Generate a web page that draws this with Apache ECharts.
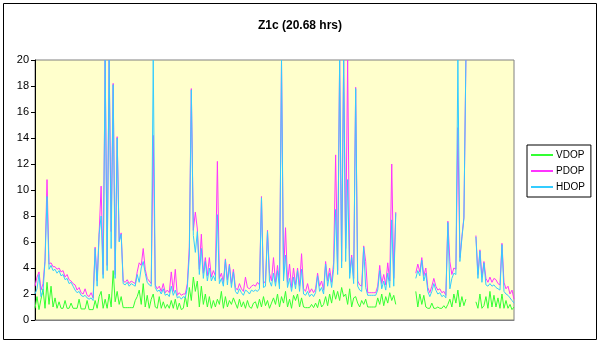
<!DOCTYPE html>
<html lang="en">
<head>
  <meta charset="UTF-8">
  <title>Z1c DOP</title>
  <script src="https://cdn.jsdelivr.net/npm/echarts@6/dist/echarts.min.js"></script>
  <style>
    html, body { margin: 0; padding: 0; background: #fff; }
    #chart { width: 600px; height: 343px; }
  </style>
</head>
<body>
  <div id="chart"></div>
</body>
<script>
  // DOP values, one sample every ~2px; null = no fix
  const vdop = [
    0.9, 1.8, 0.8, 1.6, 2.4, 0.9, 2.9, 1.2, 2.6, 1.0,
    1.7, 0.9, 1.4, 0.9, 0.9, 1.5, 0.9, 0.9, 1.3, 0.9,
    0.9, 0.9, 1.6, 0.85, 0.85, 0.85, 1.5, 0.8, 0.8, 0.8,
    1.5, 0.9, 1.8, 2.2, 0.9, 1.6, 0.9, 2.0, 1.0, 3.8,
    1.4, 2.2, 1.2, 1.8, 0.95, 0.95, 0.95, 0.95, 0.95, 0.95,
    1.5, 1.8, 2.3, 1.2, 2.8, 1.0, 1.9, 0.9, 1.6, 2.0,
    1.0, 0.9, 1.8, 0.9, 1.4, 0.9, 1.2, 0.9, 1.5, 0.9,
    1.6, 0.8, 1.3, 0.8, 0.9, 1.8, 1.0, 2.5, 1.5, 3.3,
    2.2, 3.0, 1.0, 2.6, 1.2, 2.0, 1.0, 1.8, 0.9, 1.5,
    1.0, 1.6, 1.2, 2.2, 0.9, 1.8, 1.0, 1.5, 1.2, 1.7,
    1.3, 0.9, 1.6, 1.0, 1.4, 0.9, 1.5, 1.0, 0.9, 1.3,
    1.4, 0.9, 1.6, 1.0, 1.8, 1.1, 1.5, 0.9, 1.3, 1.7,
    1.2, 2.0, 1.0, 1.8, 1.3, 2.2, 1.0, 1.6, 0.9, 1.9,
    1.5, 2.0, 1.0, 1.7, 1.0, 0.95, 0.95, 0.95, 1.2, 0.95,
    1.3, 0.95, 1.6, 1.0, 1.2, 1.8, 1.1, 2.0, 1.3, 2.3,
    1.6, 2.2, 1.5, 2.5, 1.8, 2.0, 1.2, 2.4, 1.0, 1.7,
    1.8, 1.3, 1.0, 1.5, 1.2, 1.6, 1.0, 1.0, 1.0, 1.0,
    1.0, 1.7, 1.2, 2.0, 1.1, 1.8, 1.3, 2.1, 1.5, 1.9,
    1.2, null, null, null, null, null, null, null, null, null,
    2.2, 1.0, 2.0, 1.2, 1.9, 1.0, 0.9, 0.9, 1.3, 0.9,
    0.9, 1.0, 0.9, 0.9, 1.1, 0.9, 1.2, 1.6, 1.0, 2.0,
    1.3, 2.3, 1.0, 1.8, 1.1, 1.6, null, null, null, null,
    1.4, 0.9, 2.0, 0.9, 1.1, 1.8, 0.9, 2.2, 1.0, 1.9,
    1.0, 1.7, 0.9, 2.0, 0.9, 1.5, 0.9, 1.2, 0.8, 1.0
  ];
  const pdop = [
    2.6, 3.3, 3.7, 2.3, 2.8, 4.6, 10.8, 4.3, 4.4, 4.1,
    4.1, 3.9, 4.0, 3.7, 3.8, 3.3, 3.5, 3.1, 3.0, 2.8,
    2.7, 2.3, 2.5, 2.1, 2.0, 2.4, 1.9, 1.8, 2.1, 1.7,
    5.6, 3.0, 6.7, 10.3, 3.5, 20, 4.2, 20, 6.8, 18.2,
    3.5, 14.1, 6.1, 6.7, 3.0, 2.9, 3.1, 2.8, 3.0, 2.9,
    2.8, 3.7, 4.4, 4.2, 5.5, 3.9, 3.2, 3.0, 2.8, 14.2,
    2.7, 2.4, 2.6, 2.2, 2.8, 2.1, 2.3, 2.1, 3.7, 2.2,
    3.9, 1.9, 2.1, 1.9, 2.0, 2.0, 2.8, 5.6, 17.8, 6.9,
    8.3, 7.0, 3.9, 6.6, 3.6, 4.8, 3.4, 4.8, 3.3, 3.8,
    3.4, 12.2, 3.2, 3.6, 2.9, 4.7, 3.1, 4.3, 2.8, 3.9,
    2.5, 2.3, 2.8, 2.4, 2.2, 3.3, 2.5, 2.4, 2.6, 2.7,
    2.6, 2.9, 2.7, 9.5, 2.8, 3.0, 6.9, 3.6, 3.0, 4.8,
    2.9, 4.2, 2.8, 20, 3.5, 7.1, 2.9, 4.3, 2.5, 4.0,
    2.7, 4.0, 2.6, 5.1, 2.4, 2.2, 2.8, 2.1, 2.4, 2.1,
    2.4, 3.6, 2.6, 3.0, 2.3, 4.5, 3.0, 4.0, 2.9, 4.4,
    12.7, 3.8, 20, 4.5, 20, 5.5, 20, 3.6, 5.0, 3.2,
    17.9, 3.0, 2.7, 2.6, 5.7, 4.5, 2.1, 2.1, 2.1, 2.1,
    2.1, 2.6, 4.2, 2.8, 3.5, 2.7, 4.4, 3.0, 12.0, 3.2,
    8.3, null, null, null, null, null, null, null, null, null,
    3.6, 4.3, 3.7, 4.8, 3.4, 4.0, 2.5, 2.1, 2.6, 3.2,
    2.6, 2.3, 2.4, 2.1, 2.2, 1.9, 7.6, 4.5, 3.5, 4.0,
    3.9, 14.8, 4.8, 6.4, 7.9, 20, null, null, null, null,
    6.5, 3.5, 5.4, 3.3, 4.5, 3.2, 2.9, 3.3, 2.9, 3.2,
    3.1, 2.8, 2.7, 5.9, 2.9, 2.4, 2.6, 2.0, 2.3, 1.6
  ];
  const hdop = [
    2.0, 2.4, 3.5, 1.8, 2.2, 4.5, 9.5, 3.9, 4.2, 3.8,
    3.9, 3.6, 3.8, 3.4, 3.5, 3.1, 3.2, 2.8, 2.9, 2.6,
    2.3, 2.1, 2.2, 1.9, 1.8, 1.9, 1.7, 1.6, 1.7, 1.5,
    5.5, 2.6, 6.6, 8.0, 3.2, 20, 3.8, 20, 5.5, 18.1,
    3.2, 14.0, 6.0, 6.6, 2.8, 2.7, 2.9, 2.6, 2.8, 2.7,
    2.6, 3.5, 2.9, 4.0, 4.5, 3.6, 2.9, 2.7, 2.6, 20,
    2.5, 2.2, 2.3, 2.0, 2.4, 1.9, 2.0, 1.8, 2.6, 1.9,
    2.3, 1.7, 1.8, 1.6, 1.8, 1.7, 2.5, 5.0, 17.7, 6.5,
    5.2, 6.8, 3.5, 5.5, 3.2, 4.5, 3.0, 4.0, 3.0, 3.4,
    3.0, 8.1, 2.8, 3.2, 2.6, 4.6, 2.7, 4.2, 2.5, 3.7,
    2.2, 2.0, 2.4, 2.1, 1.9, 2.3, 2.2, 2.0, 2.3, 2.2,
    2.3, 2.2, 2.4, 9.4, 2.5, 2.6, 6.8, 3.0, 2.6, 3.6,
    2.6, 3.8, 2.4, 20, 3.0, 5.0, 2.5, 3.2, 2.2, 3.3,
    2.4, 3.8, 2.2, 3.9, 2.0, 1.9, 2.2, 1.8, 2.0, 1.8,
    2.1, 3.4, 2.2, 2.5, 2.0, 4.3, 2.6, 3.6, 2.5, 3.9,
    8.5, 3.5, 20, 4.0, 20, 4.5, 10.8, 3.2, 4.8, 2.8,
    17.8, 2.6, 2.3, 2.2, 5.6, 2.5, 1.9, 1.9, 1.9, 1.9,
    1.9, 2.3, 3.8, 2.4, 3.0, 2.3, 3.6, 2.5, 7.7, 2.6,
    8.2, null, null, null, null, null, null, null, null, null,
    3.2, 3.8, 3.4, 4.6, 3.0, 3.6, 2.2, 1.8, 2.2, 2.8,
    2.3, 2.0, 2.1, 1.8, 1.9, 1.7, 7.5, 2.4, 3.2, 3.6,
    3.5, 20, 4.5, 6.3, 7.8, 20, null, null, null, null,
    6.4, 3.2, 5.3, 2.9, 4.4, 2.7, 2.6, 2.8, 2.6, 2.7,
    2.5, 2.4, 2.3, 5.8, 2.2, 2.0, 1.9, 1.7, 1.5, 1.3
  ];
  const yTicks = [0, 2, 4, 6, 8, 10, 12, 14, 16, 18, 20];

  const samples = hdop.map((_, i) => i);

  const chart = echarts.init(document.getElementById('chart'));
  const font = 'Arial, "Liberation Sans", sans-serif';

  chart.setOption({
    animation: false,
    backgroundColor: '#fff',
    title: {
      text: 'Z1c (20.68 hrs)',
      left: 'center',
      top: 15,
      textStyle: { fontFamily: font, fontSize: 12, fontWeight: 'bold', color: '#000' }
    },
    graphic: [{
      type: 'rect',
      shape: { x: 3.5, y: 3.5, width: 593, height: 336 },
      style: { fill: 'none', stroke: '#000', lineWidth: 1 },
      silent: true
    }],
    legend: {
      orient: 'vertical',
      left: 527,
      top: 145,
      padding: [5, 6, 5, 4],
      itemGap: 6,
      itemWidth: 22,
      itemHeight: 2,
      icon: 'rect',
      borderColor: '#000',
      borderWidth: 1,
      textStyle: { fontFamily: font, fontSize: 10, color: '#000', padding: [0, 0, 0, -2] },
      data: ['VDOP', 'PDOP', 'HDOP']
    },
    grid: {
      left: 35,
      right: 86,
      top: 60,
      bottom: 23,
      show: true,
      backgroundColor: '#ffffcc',
      borderColor: '#808080',
      borderWidth: 1
    },
    xAxis: {
      type: 'category',
      data: samples,
      boundaryGap: false,
      axisLine: { show: true, lineStyle: { color: '#808080' } },
      axisTick: { show: false },
      axisLabel: { show: false },
      splitLine: { show: false }
    },
    yAxis: {
      type: 'value',
      min: yTicks[0],
      max: yTicks[yTicks.length - 1],
      interval: 2,
      axisLine: { show: true, lineStyle: { color: '#000' } },
      axisTick: { show: true, length: 4, lineStyle: { color: '#000' } },
      axisLabel: { fontFamily: font, fontSize: 11, color: '#000', margin: 6 },
      splitLine: { show: false }
    },
    series: [
      { name: 'VDOP', type: 'line', data: vdop, symbol: 'none', color: '#33ff33', lineStyle: { width: 1 } },
      { name: 'PDOP', type: 'line', data: pdop, symbol: 'none', color: '#ff33ff', lineStyle: { width: 1 } },
      { name: 'HDOP', type: 'line', data: hdop, symbol: 'none', color: '#33ccff', lineStyle: { width: 1 } }
    ]
  });
</script>
</html>
